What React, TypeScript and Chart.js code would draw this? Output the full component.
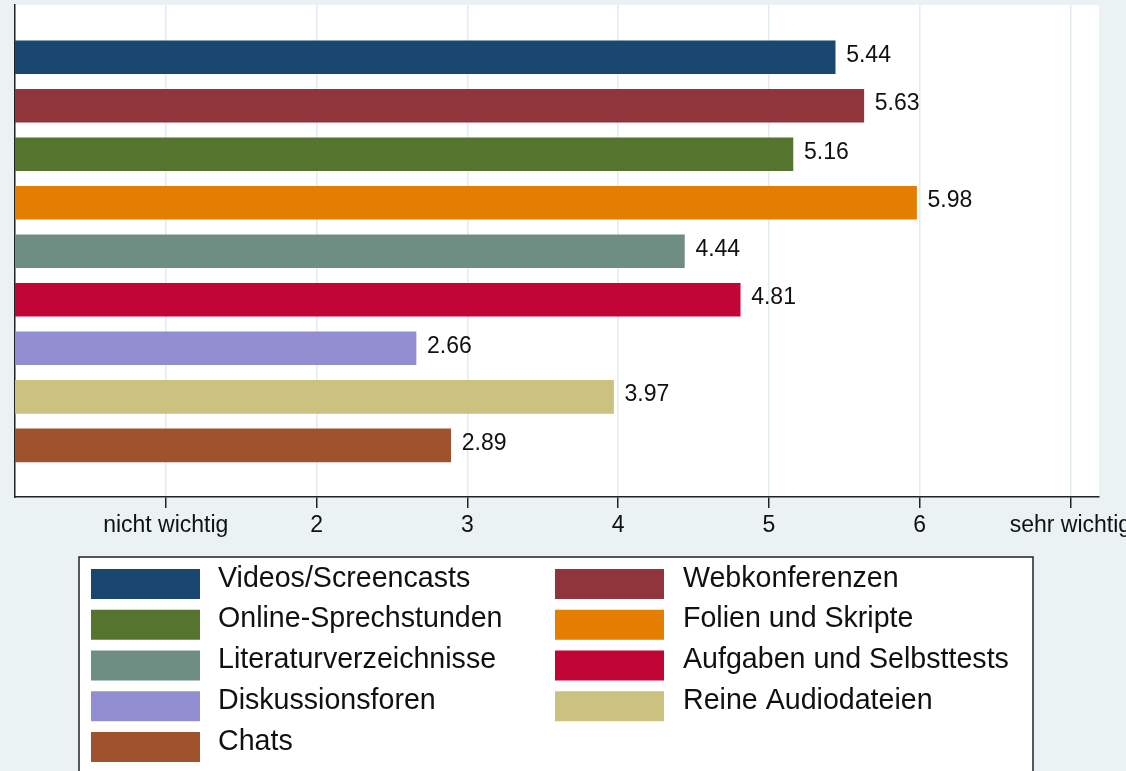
import React, { useEffect, useRef } from "react";
import { Chart, registerables } from "chart.js";

Chart.register(...registerables);

const categories = [
  "Videos/Screencasts",
  "Webkonferenzen",
  "Online-Sprechstunden",
  "Folien und Skripte",
  "Literaturverzeichnisse",
  "Aufgaben und Selbsttests",
  "Diskussionsforen",
  "Reine Audiodateien",
  "Chats",
];
const values = [5.44, 5.63, 5.16, 5.98, 4.44, 4.81, 2.66, 3.97, 2.89];
const colors = [
  "#1A476F",
  "#90353B",
  "#55752F",
  "#E37E00",
  "#6E8E84",
  "#C10534",
  "#938DD2",
  "#CAC27E",
  "#A0522D",
];
const tickValues = [1, 2, 3, 4, 5, 6, 7];
const tickLabels = ["nicht wichtig", "2", "3", "4", "5", "6", "sehr wichtig"];

const FONT = "'Liberation Sans', Arial, Helvetica, sans-serif";
const BG = "#EAF2F3";

export default function App() {
  const ref = useRef<HTMLCanvasElement | null>(null);

  useEffect(() => {
    if (!ref.current) return;

    const bgPlugin = {
      id: "bgPlugin",
      beforeDraw(chart: any) {
        const { ctx, chartArea } = chart;
        ctx.save();
        ctx.fillStyle = BG;
        ctx.fillRect(0, 0, chart.width, chart.height);
        ctx.fillStyle = "#FFFFFF";
        ctx.fillRect(
          chartArea.left,
          chartArea.top,
          chartArea.right - chartArea.left,
          chartArea.bottom - chartArea.top
        );
        ctx.restore();
      },
    };

    const valueLabels = {
      id: "valueLabels",
      afterDatasetsDraw(chart: any) {
        const { ctx } = chart;
        const meta = chart.getDatasetMeta(0);
        ctx.save();
        ctx.font = `23px ${FONT}`;
        ctx.fillStyle = "#111";
        ctx.textAlign = "left";
        ctx.textBaseline = "alphabetic";
        meta.data.forEach((bar: any, i: number) => {
          ctx.fillText(values[i].toFixed(2), bar.x + 11, bar.y + 4.5);
        });
        ctx.restore();
      },
    };

    const legendPlugin = {
      id: "customLegend",
      afterDraw(chart: any) {
        const { ctx } = chart;
        ctx.save();
        const boxL = 79;
        const boxT = 557;
        const boxR = 1033;
        ctx.fillStyle = "#FFFFFF";
        ctx.fillRect(boxL, boxT, boxR - boxL, 260);
        ctx.strokeStyle = "#222";
        ctx.lineWidth = 1.5;
        ctx.strokeRect(boxL, boxT, boxR - boxL, 260);
        ctx.font = `28.6px ${FONT}`;
        ctx.textBaseline = "alphabetic";
        ctx.textAlign = "left";
        const colX = [91, 555];
        const textX = [218, 683];
        const rowTop = 569;
        const pitch = 40.75;
        categories.forEach((name, i) => {
          const col = i % 2;
          const row = Math.floor(i / 2);
          const y = rowTop + row * pitch;
          ctx.fillStyle = colors[i];
          ctx.fillRect(colX[col], y, 109, 30);
          ctx.fillStyle = "#111";
          ctx.fillText(name, textX[col], y + 17.7);
        });
        ctx.restore();
      },
    };

    const chart = new Chart(ref.current, {
      type: "bar",
      data: {
        labels: categories,
        datasets: [
          {
            data: values.map((v, i) => ({ x: v, y: i })),
            backgroundColor: colors,
            borderWidth: 0,
            barThickness: 33,
          } as any,
        ],
      },
      options: {
        indexAxis: "y",
        responsive: false,
        animation: false,
        devicePixelRatio: 1,
        layout: { padding: { left: 15, top: 5, right: 27, bottom: 224 } },
        plugins: {
          legend: { display: false },
          tooltip: { enabled: false },
        },
        scales: {
          x: {
            type: "linear",
            min: 0,
            max: 7.19,
            offset: false,
            afterBuildTicks: (s: any) => {
              s.ticks = tickValues.map((v) => ({ value: v }));
            },
            afterFit: (s: any) => {
              s.height = 50;
              s.paddingLeft = 0;
              s.paddingRight = 0;
            },
            ticks: {
              autoSkip: false,
              maxRotation: 0,
              minRotation: 0,
              includeBounds: false,
              padding: 4,
              color: "#111",
              font: { family: FONT, size: 23 },
              callback: (v: any) => {
                const idx = tickValues.indexOf(Number(v));
                return idx >= 0 ? tickLabels[idx] : "";
              },
            },
            grid: {
              color: "#E2ECEE",
              lineWidth: 1.5,
              tickColor: "#222",
              tickLength: 11,
              tickWidth: 1.5,
              drawOnChartArea: true,
              offset: false,
            },
            border: { display: true, color: "#222", width: 1.5 },
          },
          y: {
            type: "linear",
            reverse: true,
            min: -1.078,
            max: 9.066,
            offset: false,
            afterFit: (s: any) => {
              s.width = 0;
            },
            ticks: { display: false },
            grid: { display: false, drawTicks: false, offset: false },
            border: { display: true, color: "#222", width: 1.5 },
          },
        },
      } as any,
      plugins: [bgPlugin, valueLabels, legendPlugin],
    });

    return () => chart.destroy();
  }, []);

  return (
    <div
      style={{
        position: "fixed",
        left: 0,
        top: 0,
        width: 1126,
        height: 771,
        background: BG,
        overflow: "hidden",
      }}
    >
      <canvas ref={ref} width={1126} height={771} style={{ display: "block" }} />
    </div>
  );
}
